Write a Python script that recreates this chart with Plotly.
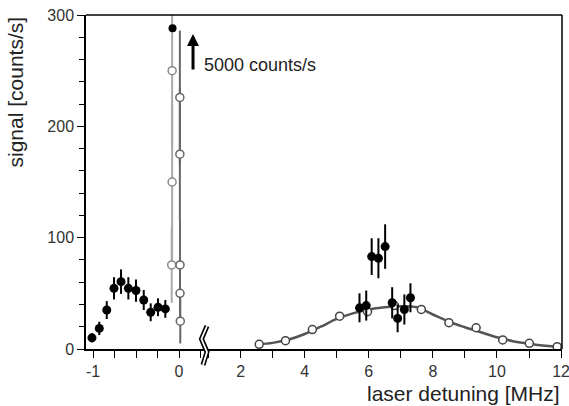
import plotly.graph_objects as go

# left part of the scan (filled points, around the strong line at 0)
left_x = [-1.012, -0.927, -0.84, -0.756, -0.674, -0.589, -0.50, -0.41, -0.329, -0.244, -0.159]
left_y = [10, 18.5, 35, 54.5, 60.5, 54.5, 52.5, 44, 33, 37.5, 36]
left_err = [4, 6, 8, 10, 11, 10, 10, 9, 8, 8, 8]

# saturated points near zero detuning
peak_a_x = [-0.08, -0.08, -0.085]
peak_a_y = [250, 150, 75.5]
peak_a_err = [70, 70, 34]
peak_b_x = [0.01, 0.01, 0.012, 0.012, 0.015]
peak_b_y = [226, 175, 75.5, 50, 25]
peak_b_err = [60, 60, 40, 28, 20]
peak_top_x = [-0.075]
peak_top_y = [288]

# right part: open circles, fitted curve and filled points
open_x = [2.58, 3.40, 4.24, 5.09, 5.96, 6.80, 7.64, 8.50, 9.35, 10.18, 11.01, 11.88]
open_y = [4.2, 7.5, 17.5, 29.5, 33.5, 39, 35.5, 23.6, 19.1, 8.1, 5.1, 2.1]
fit_x = [2.55, 3, 3.5, 4, 4.5, 5, 5.5, 6, 6.5, 7, 7.5, 8, 8.5, 9, 9.5, 10, 10.5, 11, 11.5, 12]
fit_y = [4.2, 5.5, 8.5, 13.5, 20, 27, 32, 35.5, 37.5, 38.5, 37.5, 31, 24.5, 19.5, 15, 10.5, 7, 4.8, 3, 1.8]
right_x = [5.71, 5.92, 6.09, 6.30, 6.51, 6.73, 6.90, 7.11, 7.30]
right_y = [37, 39, 83, 81.5, 92, 41.5, 27.5, 35.5, 46]
right_err = [13, 13.5, 16.5, 18, 20, 14, 12.5, 13.5, 13]

FONT = "Liberation Sans, Arial, sans-serif"
W, H = 569, 406
L, R, T, B = 86, 7, 15, 57
split = (204 - L) / (W - L - R)

fig = go.Figure()

open_marker = dict(symbol="circle", size=8, color="white", line=dict(color="#444", width=1.5))

fig.add_trace(go.Scatter(x=peak_a_x, y=peak_a_y, mode="markers",
                         marker=dict(symbol="circle", size=8, color="white", line=dict(color="#888", width=1.5)),
                         error_y=dict(type="data", array=peak_a_err, color="#aaa", thickness=2, width=0),
                         xaxis="x", yaxis="y"))
fig.add_trace(go.Scatter(x=peak_b_x, y=peak_b_y, mode="markers",
                         marker=dict(symbol="circle", size=8, color="white", line=dict(color="#666", width=1.5)),
                         error_y=dict(type="data", array=peak_b_err, color="#666", thickness=2, width=0),
                         xaxis="x", yaxis="y"))
fig.add_trace(go.Scatter(x=peak_top_x, y=peak_top_y, mode="markers",
                         marker=dict(size=8, color="black"), xaxis="x", yaxis="y"))
fig.add_trace(go.Scatter(x=left_x, y=left_y, mode="markers",
                         marker=dict(size=9, color="black"),
                         error_y=dict(type="data", array=left_err, color="black", thickness=2, width=0),
                         xaxis="x", yaxis="y"))

fig.add_trace(go.Scatter(x=fit_x, y=fit_y, mode="lines", line=dict(color="#555", width=2.5, shape="spline"),
                         xaxis="x2", yaxis="y2"))
fig.add_trace(go.Scatter(x=open_x, y=open_y, mode="markers", marker=open_marker, xaxis="x2", yaxis="y2"))
fig.add_trace(go.Scatter(x=right_x, y=right_y, mode="markers",
                         marker=dict(size=9, color="black"),
                         error_y=dict(type="data", array=right_err, color="black", thickness=2, width=0),
                         xaxis="x2", yaxis="y2"))

tickfont = dict(family=FONT, size=16, color="#333")
axis_common = dict(showline=True, linecolor="black", linewidth=1.5, ticks="outside", ticklen=7,
                   tickcolor="black", tickwidth=1, showgrid=False, zeroline=False, tickfont=tickfont,
                   ticklabeloverflow="allow", automargin=False)

fig.update_layout(
    width=W, height=H, margin=dict(l=L, r=R, t=T, b=B),
    paper_bgcolor="white", plot_bgcolor="white", showlegend=False,
    xaxis=dict(domain=[0, split], range=[(L - 179) / 86, (204 - 179) / 86],
               tickmode="array", tickvals=[-1, 0], ticktext=["-1", "0"],
               minor=dict(dtick=0.25, tick0=0, ticks="outside", ticklen=7, tickcolor="black"),
               anchor="y", **axis_common),
    xaxis2=dict(domain=[split, 1], range=[2 + (204 - 240.7) / 32.1, 12.03],
                tickmode="array", tickvals=[2, 4, 6, 8, 10, 12],
                minor=dict(dtick=1, tick0=0, ticks="outside", ticklen=7, tickcolor="black"),
                anchor="y2", **axis_common),
    yaxis=dict(domain=[0, 1], range=[0, 300], tickvals=[0, 100, 200, 300],
               minor=dict(dtick=20, tick0=0, ticks="outside", ticklen=5, tickcolor="black"),
               anchor="x", **axis_common),
    yaxis2=dict(domain=[0, 1], range=[0, 300], matches="y", visible=False, anchor="x2"),
)

# frame: top and right border
fig.add_shape(type="line", xref="paper", yref="paper", x0=0, x1=1, y0=1, y1=1,
              line=dict(color="black", width=1.5))
fig.add_shape(type="line", xref="paper", yref="paper", x0=1, x1=1, y0=0, y1=1,
              line=dict(color="black", width=1.5))


# axis break symbol (pixel positions converted to paper coordinates)
def px(xp, yp):
    return (xp - L) / (W - L - R), (H - B - yp) / (H - T - B)


pts = [px(207, 326), px(201.5, 339), px(207, 352), px(203, 365)]
path = "M " + " L ".join(f"{a:.4f},{b:.4f}" for a, b in pts)
fig.add_shape(type="path", path=path, xref="paper", yref="paper", line=dict(color="black", width=5))
fig.add_shape(type="path", path=path, xref="paper", yref="paper", line=dict(color="white", width=1.8))

# arrow and label for the off-scale peak
fig.add_annotation(x=0.163, y=283, xref="x", yref="y", text="", showarrow=True,
                   arrowhead=2, arrowsize=0.8, arrowwidth=3, arrowcolor="black",
                   axref="pixel", ayref="pixel", ax=0, ay=37, standoff=0)
fig.add_annotation(x=0.262, y=255, xref="x", yref="y", text="5000 counts/s", showarrow=False,
                   xanchor="left", yanchor="middle", font=dict(family=FONT, size=18, color="#222"))

# axis titles
fig.add_annotation(x=1, y=(H - B - 393) / (H - T - B), xref="paper", yref="paper",
                   text="laser detuning [MHz]", showarrow=False, xanchor="right", yanchor="middle",
                   font=dict(family=FONT, size=21, color="#222"))
fig.add_annotation(x=(15 - L) / (W - L - R), y=1, xref="paper", yref="paper",
                   text="signal [counts/s]", showarrow=False, textangle=-90,
                   xanchor="center", yanchor="top", font=dict(family=FONT, size=21, color="#222"))

# the page body has a default margin; drop it so the figure sits at the corner
fig.write_html("out.html", config={"displayModeBar": False},
               post_script="document.body.style.margin='0';")
